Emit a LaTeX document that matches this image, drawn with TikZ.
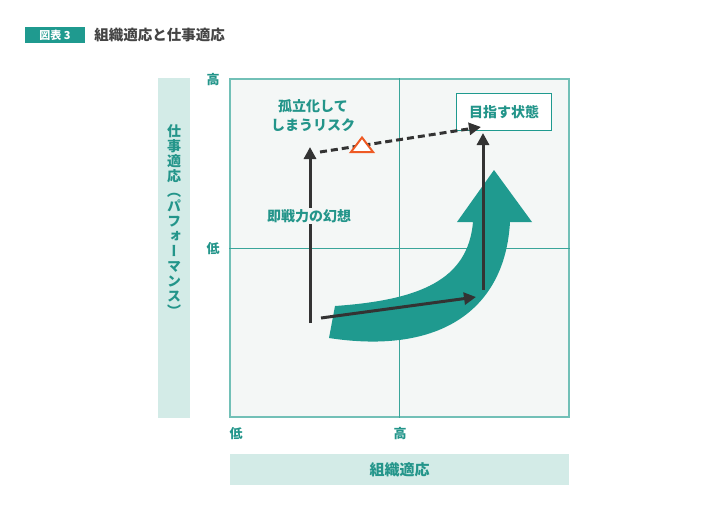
\documentclass[tikz,border=0pt]{standalone}
\usepackage{fontspec}
\setmainfont{Noto Sans CJK JP}
\newfontfamily\tatefont{Noto Sans CJK JP}[RawFeature=+vert]
\usetikzlibrary{arrows.meta,positioning}
\definecolor{zteal}{HTML}{1F9A8F}
\definecolor{tealtext}{HTML}{23958A}
\definecolor{bandgreen}{HTML}{D3EBE7}
\definecolor{plotbg}{HTML}{F4F7F6}
\definecolor{framecol}{HTML}{72C0B7}
\definecolor{midcol}{HTML}{3AA59A}
\definecolor{darkline}{HTML}{333333}
\definecolor{warncol}{HTML}{EE5A24}
\definecolor{titlecol}{HTML}{444444}
\tikzset{
>={Triangle[width=12pt,length=12pt]},
  tag/.style={
    fill=zteal, text=white,
    minimum width=60, minimum height=16,
    inner sep=0pt,
    font=\bfseries\fontsize{11}{11}\selectfont},
  heading/.style={text=titlecol, inner sep=0pt,
    font=\bfseries\fontsize{14.5}{14.5}\selectfont},
  band/.style={fill=bandgreen, inner sep=0pt},
  plot/.style={fill=plotbg, draw=framecol, line width=1.3pt,
    minimum width=339, minimum height=338, inner sep=0pt},
  midline/.style={draw=midcol, line width=0.9pt},
  tick/.style={text=tealtext, font=\bfseries\fontsize{13}{13}\selectfont},
  note/.style={text=tealtext, align=center,
    font=\bfseries\fontsize{14}{19}\selectfont},
  goal/.style={draw=zteal, line width=1.2pt, fill=white, text=tealtext,
    minimum width=95, minimum height=37,
    font=\bfseries\fontsize{14}{14}\selectfont},
  darrow/.style={draw=darkline, line width=3pt, ->},
  riskline/.style={darrow, dash pattern=on 7pt off 4pt},
  warn/.style={draw=warncol, fill=white, line width=2pt, line join=miter},
  bigarrow/.style={fill=zteal},
}
\begin{document}
\begin{tikzpicture}[x=1pt,y=-1pt]
  \useasboundingbox (0,0) rectangle (728,531);
  % heading
  \node[tag] (tag) at (55,35) {図表 3};
  \node[heading, right=9pt of tag] (title) {組織適応と仕事適応};
  % axis bands
  \node[band, minimum width=32, minimum height=340] (yband) at (174,248) {};
  \node[note, align=center, font=\tatefont\bfseries\fontsize{14}{15}\selectfont]
    (ylabel) at (174,221)
    {仕\\事\\適\\応\\（\\パ\\フ\\ォ\\ー\\マ\\ン\\ス\\）};
  \node[band, minimum width=339, minimum height=31, text=tealtext,
    font=\bfseries\fontsize{15}{15}\selectfont] (xband) at (399.5,469.5) {組織適応};
  % plot area
  \node[plot] (plot) at (399.5,248) {};
  \draw[midline] (plot.north) -- (plot.south);
  \draw[midline] (plot.west) -- (plot.east);
  \node[tick] (yhigh) at (213,80) {高};
  \node[tick] (ylow) at (213,249) {低};
  \node[tick] (xlow) at (236,434) {低};
  \node[tick] (xhigh) at (400,434) {高};
  % growth arrow
  \fill[bigarrow] (335,306) .. controls (420,300) and (468,280) .. (473,222)
    -- (457,222) -- (494,170) -- (532,222) -- (510,222)
    .. controls (505,310) and (440,355) .. (329,338) -- cycle;
  % paths
  \coordinate (illusion0) at (310,323);
  \coordinate (illusion1) at (310,147);
  \coordinate (grow0) at (321,318);
  \coordinate (grow1) at (476,297);
  \coordinate (rise0) at (483,290);
  \coordinate (rise1) at (483,133);
  \coordinate (risk0) at (320,152);
  \coordinate (risk1) at (481,127);
  \node[goal] (goal) at (504,112) {目指す状態};
  \draw[darrow] (illusion0) -- (illusion1);
  \draw[darrow] (grow0) -- (grow1);
  \draw[darrow] (rise0) -- (rise1);
  \draw[riskline] (risk0) -- (risk1);
  \draw[warn] (351,152) -- (362,137.5) -- (373,152) -- cycle;
  \node[note] (isolate) at (313,116) {孤立化して\\しまうリスク};
  \node[note, fill=plotbg, inner sep=1pt] (illusion) at (309,216) {即戦力の幻想};
\end{tikzpicture}
\end{document}
